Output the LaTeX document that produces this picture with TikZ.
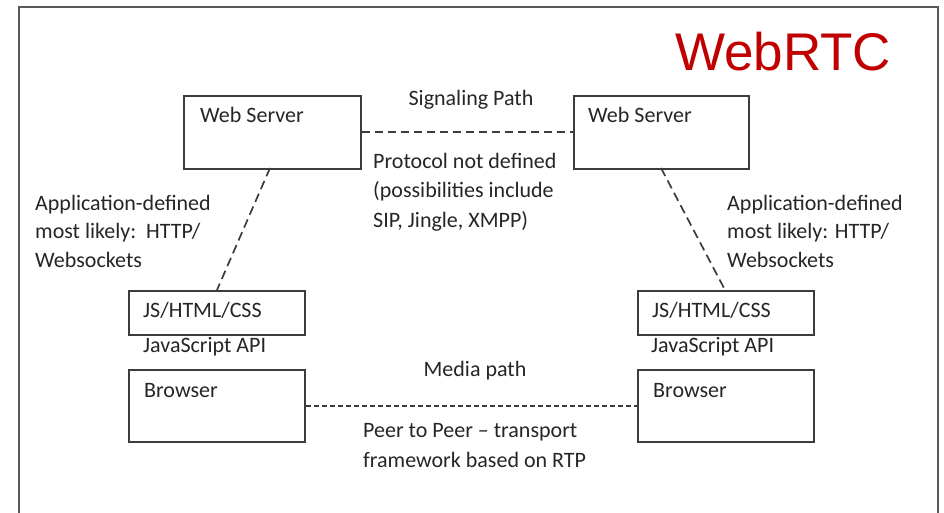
\documentclass[tikz,border=0pt]{standalone}
\usepackage{fontspec}
\setmainfont{Carlito}
\newfontfamily\titlefont{Liberation Sans}
\definecolor{framegray}{HTML}{3C3C3C}
\definecolor{titlered}{HTML}{C00000}
\begin{document}
\begin{tikzpicture}[x=1pt,y=-1pt,
  box/.style={draw=framegray, line width=1.6pt, anchor=north west, inner sep=0pt},
  txt/.style={anchor=base west, inner sep=0pt, text=black!85, font=\fontsize{22}{29}\selectfont},
  ctxt/.style={anchor=base, inner sep=0pt, text=black!85, font=\fontsize{22}{29}\selectfont},
  sigline/.style={draw=framegray, line width=1.7pt, dash pattern=on 8pt off 5pt},
  medline/.style={draw=framegray, line width=1.7pt, dash pattern=on 5pt off 3pt},
  appline/.style={draw=framegray, line width=1.7pt, dash pattern=on 9pt off 5pt}]
\useasboundingbox (0,0) rectangle (944,512);
\fill[white] (0,0) rectangle (944,512);
% outer frame (runs off the bottom edge)
\draw[framegray!85, line width=1.8pt] (19,514) -- (19,7) -- (938,7) -- (938,514);

% title
\node[anchor=base west, inner sep=0pt, text=titlered, font=\titlefont\fontsize{53}{60}\selectfont] (title) at (675,70) {WebRTC};

% boxes
\node[box, minimum width=177, minimum height=73] (wsL) at (183,95) {};
\node[box, minimum width=175, minimum height=73] (wsR) at (573,95) {};
\node[box, minimum width=176, minimum height=44] (jsL) at (128,290) {};
\node[box, minimum width=176, minimum height=72] (brL) at (128,369) {};
\node[box, minimum width=176, minimum height=44] (jsR) at (637,290) {};
\node[box, minimum width=176, minimum height=72] (brR) at (637,369) {};

% box captions
\node[txt] (wsLt) at (200,122) {Web Server};
\node[txt] (wsRt) at (588,122) {Web Server};
\node[txt] (jsLt) at (143,317) {JS/HTML/CSS};
\node[txt] (jsRt) at (652,317) {JS/HTML/CSS};
\node[txt] (apiL) at (143,352) {JavaScript API};
\node[txt] (apiR) at (651,352) {JavaScript API};
\node[txt] (brLt) at (144,397) {Browser};
\node[txt] (brRt) at (653,397) {Browser};

% connector end points on box borders
\coordinate (wsLb) at (270,168);
\coordinate (jsLtop) at (217,290);
\coordinate (wsRb) at (661,168);
\coordinate (jsRtop) at (725,290);

% connectors
\draw[sigline] (wsL.east) -- (wsR.west);
\draw[medline] (brL.east) -- (brR.west);
\draw[appline] (wsLb) -- (jsLtop);
\draw[appline] (wsRb) -- (jsRtop);

% connector labels
\node[ctxt] (sig) at (471,105) {Signaling Path};
\node[txt] (proto1) at (373,168) {Protocol not defined};
\node[txt] (proto2) at (373,197) {(possibilities include};
\node[txt] (proto3) at (373,227) {SIP, Jingle, XMPP)};

\node[txt] (appL1) at (35,210) {Application-defined};
\node[txt] (appL2) at (35,238) {most likely:\ \ HTTP/};
\node[txt] (appL3) at (35,267) {Websockets};
\node[txt] (appR1) at (727,210) {Application-defined};
\node[txt] (appR2) at (727,238) {most likely: HTTP/};
\node[txt] (appR3) at (727,267) {Websockets};

\node[ctxt] (media) at (475,376) {Media path};
\node[txt] (p2p1) at (363,437) {Peer to Peer -- transport};
\node[txt] (p2p2) at (363,467) {framework based on RTP};
\end{tikzpicture}
\end{document}
